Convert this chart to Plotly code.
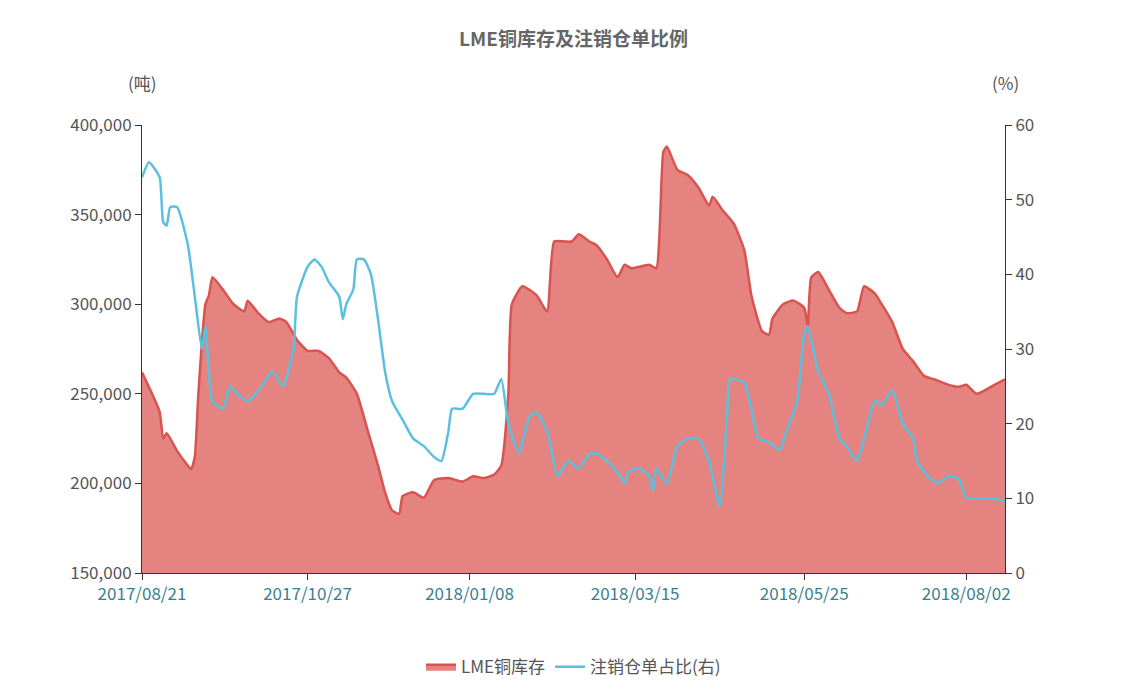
import plotly.graph_objects as go
import pandas as pd

dates = [d.strftime("%Y/%m/%d") for d in pd.bdate_range("2017-08-21", periods=246)]
tick_idx = [0, 47, 93, 140, 188, 234]
tick_labels = ["2017/08/21", "2017/10/27", "2018/01/08", "2018/03/15", "2018/05/25", "2018/08/02"]

cu_px = [134,150,155,160,170,180,183,188,192,196,200,205,215,225,235,240,250,262,270,280,290,300,310,320,330,340,350,360,370,378,385,390,395,405,415,425,440,455,465,475,485,495,500,505,515,530,540,545,555,565,570,580,590,600,610,615,625,640,650,655,660,670,680,690,700,705,715,725,735,745,755,760,765,775,785,795,800,805,810,820,830,840,850,855,865,875,885,895,905,915,925,940,950,960,970,985,997]
cu_val = [262,240,225,228,218,210,208,215,250,300,305,315,308,300,296,302,295,290,292,290,280,274,274,270,262,259,250,230,210,195,185,183,193,195,192,202,203,201,204,203,205,210,250,300,310,305,296,335,335,335,339,335,333,325,315,322,320,322,320,385,388,375,372,365,355,360,352,345,330,305,285,283,292,300,302,298,288,315,318,308,298,295,296,310,306,300,290,275,268,260,258,255,254,255,250,255,258]
r_px = [134,140,150,155,158,162,170,180,188,193,198,205,215,222,228,240,255,265,275,285,290,300,308,315,320,330,335,340,345,350,355,362,370,378,385,395,405,415,425,432,440,445,455,465,475,485,495,500,510,520,530,540,550,560,570,580,590,600,610,615,620,630,640,645,650,660,670,680,690,700,710,717,722,735,745,752,762,770,780,790,795,800,810,820,830,840,850,855,865,875,885,895,905,910,920,930,940,950,960,970,985,997]
r_val = [53,55,53,47,46.5,49,49,44,37,30,33,23,22,25,24,23,25,27,25,30,37,41,42,41,39,37,34,36,38,42,42,40,34,27,23,20.5,18,17,15.5,15,19,22,22,24,24,24,26,20,16,21,21.5,19,13,15,14,16,16,15,13.5,12,13.5,14,13,11,14,12,17,18,18,15,9,20,26,25.5,22,18,17.5,16.5,19,23,32,33,27,24,18,17,15,18,23,22.5,24.5,20,18,15,13,12,13,12.5,10,10,10,9.5]

def to_dates(px):
    return [dates[min(245, round((p - 134) / 863 * 245))] for p in px]

fig = go.Figure()
fig.add_trace(go.Scatter(x=to_dates(cu_px), y=[v * 1000 for v in cu_val], name="LME铜库存",
                         mode="lines", line=dict(color="#d9534f", width=2.5, shape="spline", smoothing=0.5),
                         fill="tozeroy", fillcolor="rgba(217,83,79,0.72)"))
fig.add_trace(go.Scatter(x=to_dates(r_px), y=r_val, name="注销仓单占比(右)", yaxis="y2",
                         mode="lines", line=dict(color="#5bc0de", width=2.5, shape="spline", smoothing=0.5)))

tickfont = dict(size=17, color="#555")
fig.update_layout(
    width=1131, height=696, paper_bgcolor="white", plot_bgcolor="white",
    font=dict(family="Noto Sans CJK SC", color="#555"),
    margin=dict(l=134, r=134, t=117, b=131, autoexpand=False),
    title=dict(text="<b>LME铜库存及注销仓单比例</b>", x=0.5, y=0.955, xanchor="center", yanchor="middle",
               font=dict(size=19, color="#666")),
    xaxis=dict(type="category", categoryorder="array", categoryarray=dates, range=[0, 245],
               tickvals=[dates[i] for i in tick_idx], ticktext=tick_labels, automargin=False,
               tickfont=dict(size=17, color="#3a7f8f"), showgrid=False, showline=True,
               linecolor="#333", ticks="outside", ticklen=6, tickcolor="#333"),
    yaxis=dict(range=[150000, 400000], dtick=50000, tickformat=",", tickfont=tickfont, automargin=False,
               showgrid=False, showline=True, linecolor="#333", ticks="outside", ticklen=6,
               tickcolor="#333", zeroline=False),
    yaxis2=dict(range=[0, 60], dtick=10, overlaying="y", side="right", tickfont=tickfont, automargin=False,
                showgrid=False, showline=True, linecolor="#333", ticks="outside", ticklen=6,
                tickcolor="#333", zeroline=False),
    legend=dict(orientation="h", x=0.5, xanchor="center", y=-0.17, yanchor="top",
                font=dict(size=17, color="#555")),
    annotations=[
        dict(text="(吨)", xref="paper", yref="paper", x=0, y=1.095, xanchor="center", yanchor="middle", showarrow=False, font=dict(size=17, color="#555")),
        dict(text="(%)", xref="paper", yref="paper", x=1, y=1.095, xanchor="center", yanchor="middle", showarrow=False, font=dict(size=17, color="#555")),
    ],
)
fig.write_html("out.html")
